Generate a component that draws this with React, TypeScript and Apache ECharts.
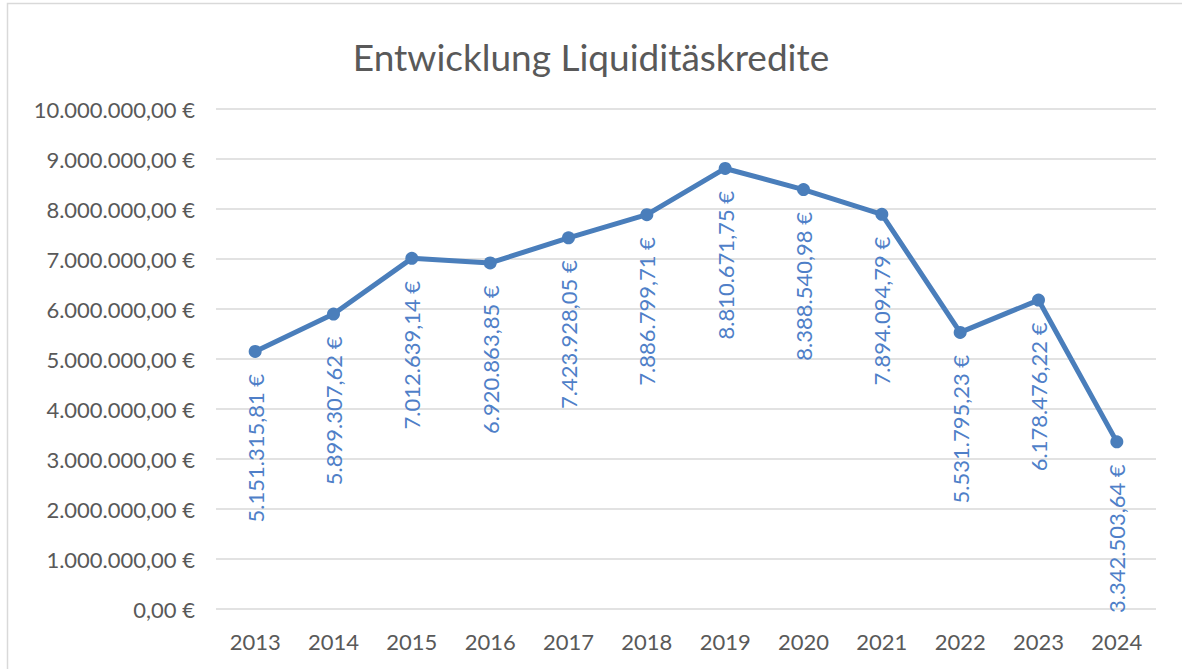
import React, { useEffect, useRef } from "react";
import * as echarts from "echarts";

const years = ["2013", "2014", "2015", "2016", "2017", "2018", "2019", "2020", "2021", "2022", "2023", "2024"];
const credits = [
  5151315.81, 5899307.62, 7012639.14, 6920863.85, 7423928.05, 7886799.71,
  8810671.75, 8388540.98, 7894094.79, 5531795.23, 6178476.22, 3342503.64,
];
const yMin = 0;
const yMax = 10000000;
const yStep = 1000000;
const titleText = "Entwicklung Liquiditäskredite";

const fmtEuro = (v: number) =>
  v.toLocaleString("de-DE", { minimumFractionDigits: 2, maximumFractionDigits: 2 }) + " €";

export default function App() {
  const ref = useRef<HTMLDivElement>(null);
  useEffect(() => {
    if (!ref.current) return;
    const chart = echarts.init(ref.current, null, { renderer: "svg" });
    const font = "Lato, 'Open Sans', sans-serif";
    chart.setOption({
      animation: false,
      backgroundColor: "#ffffff",
      title: {
        text: titleText,
        left: "center",
        top: 33,
        textStyle: { fontFamily: font, fontSize: 37, fontWeight: "normal", color: "#595959" },
      },
      graphic: [
        {
          type: "rect",
          shape: { x: 7.5, y: 3.5, width: 1200, height: 700 },
          style: { fill: "none", stroke: "#d9d9d9", lineWidth: 1.5 },
          silent: true,
        },
      ],
      grid: { left: 216, right: 26, top: 109, bottom: 60, containLabel: false },
      xAxis: {
        type: "category",
        data: years,
        boundaryGap: true,
        axisLine: { show: false },
        axisTick: { show: false },
        axisLabel: { fontFamily: font, fontSize: 22, color: "#595959", margin: 21 },
      },
      yAxis: {
        type: "value",
        min: yMin,
        max: yMax,
        interval: yStep,
        axisLine: { show: false },
        axisTick: { show: false },
        splitLine: { lineStyle: { color: "#d9d9d9", width: 1.5 } },
        axisLabel: {
          fontFamily: font,
          fontSize: 22,
          color: "#595959",
          margin: 21,
          formatter: (v: number) => fmtEuro(v),
        },
      },
      series: [
        {
          type: "line",
          data: credits,
          color: "#4a7ebb",
          lineStyle: { width: 5, color: "#4a7ebb" },
          symbol: "circle",
          symbolSize: 13,
          itemStyle: { color: "#4a7ebb" },
          label: {
            show: true,
            position: "bottom",
            distance: 16,
            rotate: 90,
            align: "right",
            verticalAlign: "middle",
            fontFamily: font,
            fontSize: 22,
            color: "#4f7fc8",
            formatter: (p: any) => fmtEuro(p.value),
          },
        },
      ],
    });
    return () => chart.dispose();
  }, []);
  return (
    <div
      ref={ref}
      style={{ position: "fixed", left: 0, top: 0, width: 1182, height: 669, background: "#fff" }}
    />
  );
}
